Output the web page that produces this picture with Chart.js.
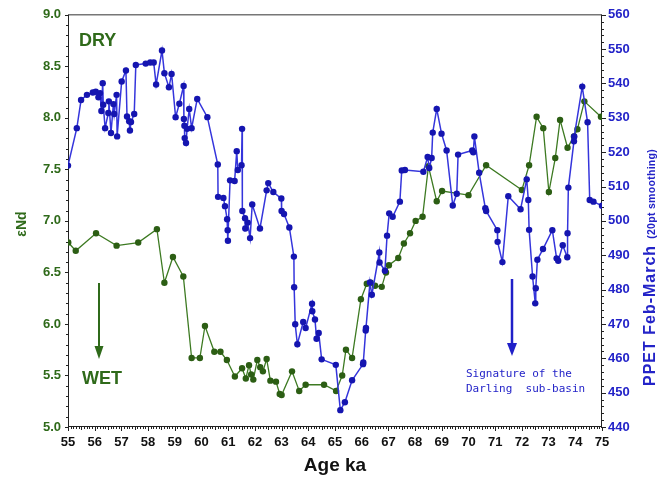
<!DOCTYPE html>
<html>
<head>
<meta charset="utf-8">
<script src="https://cdn.jsdelivr.net/npm/chart.js@4/dist/chart.umd.min.js"></script>
<style>
  html, body { margin: 0; padding: 0; background: #fff; }
  #wrap { width: 666px; height: 479px; }
</style>
</head>
<body>
<div id="wrap"><canvas id="chart" width="666" height="479"></canvas></div>
<script>
"use strict";
// Axes
const X_MIN = 55, X_MAX = 75;
const ND_MIN = 5.0, ND_MAX = 9.0;
const PPET_MIN = 440, PPET_MAX = 560;

// PPET Feb-March (20pt smoothing), blue
const agePpet = [55.00, 55.33, 55.49, 55.71, 55.93, 56.04, 56.14, 56.20, 56.25, 56.30, 56.32, 56.39, 56.51, 56.53,
  56.61, 56.70, 56.73, 56.82, 56.84, 57.01, 57.17, 57.21, 57.29, 57.32, 57.36, 57.48, 57.54, 57.91, 58.08, 58.21,
  58.30, 58.52, 58.61, 58.78, 58.88, 59.03, 59.17, 59.33, 59.34, 59.36, 59.37, 59.42, 59.46, 59.54, 59.63, 59.84,
  60.22, 60.61, 60.62, 60.82, 60.88, 60.96, 60.98, 60.99, 61.07, 61.24, 61.32, 61.36, 61.50, 61.52, 61.53, 61.63,
  61.64, 61.73, 61.82, 61.90, 62.19, 62.44, 62.50, 62.69, 62.99, 63.00, 63.09, 63.29, 63.46, 63.47, 63.51, 63.59,
  63.81, 63.90, 64.14, 64.15, 64.25, 64.31, 64.39, 64.50, 65.03, 65.20, 65.37, 65.64, 66.05, 66.06, 66.15, 66.16,
  66.31, 66.38, 66.66, 66.67, 66.87, 66.95, 67.03, 67.16, 67.43, 67.50, 67.62, 68.31, 68.47, 68.53, 68.62, 68.66,
  68.81, 68.99, 69.18, 69.41, 69.56, 69.61, 70.14, 70.18, 70.22, 70.40, 70.63, 70.66, 71.08, 71.09, 71.27, 71.49,
  71.95, 72.18, 72.24, 72.27, 72.40, 72.50, 72.52, 72.58, 72.79, 73.14, 73.30, 73.36, 73.53, 73.70, 73.71, 73.74,
  73.95, 73.96, 74.26, 74.46, 74.54, 74.68, 75.00];
const ppet = [516.1, 527.0, 535.2, 536.7, 537.4, 537.6, 536.0, 537.2, 532.0, 540.1, 533.8, 527.0, 531.4, 534.8,
  525.6, 534.0, 531.1, 536.7, 524.6, 540.6, 543.8, 530.4, 529.0, 526.3, 528.8, 531.1, 545.4, 545.8, 546.1, 546.1,
  539.7, 549.6, 543.0, 538.9, 542.8, 530.2, 534.1, 539.3, 529.7, 527.7, 524.1, 522.7, 526.8, 532.6, 527.0, 535.5,
  530.2, 516.4, 507.0, 506.7, 504.3, 500.5, 497.3, 494.2, 511.8, 511.6, 520.3, 514.8, 516.2, 526.8, 502.9, 500.8,
  497.8, 499.5, 495.0, 504.8, 497.8, 508.9, 511.0, 508.4, 506.5, 502.9, 502.0, 498.1, 489.6, 480.7, 469.9, 464.1,
  470.6, 468.8, 475.9, 473.7, 471.3, 465.7, 467.4, 459.7, 458.1, 444.9, 447.2, 453.6, 458.3, 458.8, 468.1, 468.8,
  482.1, 478.5, 490.8, 487.9, 485.5, 495.7, 502.2, 501.2, 505.6, 514.7, 514.8, 514.3, 518.6, 515.4, 518.3, 525.7,
  532.6, 525.4, 520.5, 504.5, 507.9, 519.3, 520.5, 520.0, 524.6, 514.0, 503.7, 502.9, 497.3, 493.9, 488.0, 507.2,
  503.4, 512.1, 506.1, 497.4, 483.8, 476.0, 480.4, 488.7, 491.8, 497.3, 489.1, 488.4, 492.9, 489.4, 496.4, 509.7,
  523.2, 524.6, 539.1, 528.7, 506.1, 505.6, 504.4];

// εNd, green
const ageNd = [55.01, 55.29, 56.05, 56.82, 57.63, 58.33, 58.61, 58.93, 59.32, 59.63, 59.94, 60.13, 60.48, 60.71,
  60.95, 61.25, 61.52, 61.66, 61.78, 61.86, 61.94, 62.09, 62.20, 62.30, 62.44, 62.58, 62.79, 62.93, 63.00, 63.39,
  63.66, 63.90, 64.59, 65.04, 65.27, 65.41, 65.64, 65.97, 66.19, 66.34, 66.50, 66.75, 66.91, 67.02, 67.37, 67.58,
  67.81, 68.02, 68.28, 68.50, 68.81, 69.01, 70.00, 70.66, 72.00, 72.27, 72.55, 72.80, 73.01, 73.25, 73.43, 73.71,
  73.95, 74.08, 74.34, 74.96];
const eNd = [6.79, 6.71, 6.88, 6.76, 6.79, 6.92, 6.40, 6.65, 6.46, 5.67, 5.67, 5.98, 5.73, 5.73,
  5.65, 5.49, 5.57, 5.47, 5.60, 5.51, 5.46, 5.65, 5.58, 5.54, 5.66, 5.45, 5.44, 5.32, 5.31, 5.54,
  5.35, 5.41, 5.41, 5.35, 5.50, 5.75, 5.67, 6.24, 6.39, 6.40, 6.37, 6.36, 6.50, 6.57, 6.64, 6.78,
  6.88, 7.00, 7.04, 7.53, 7.19, 7.29, 7.25, 7.54, 7.30, 7.54, 8.01, 7.90, 7.28, 7.61, 7.98, 7.71,
  7.82, 7.89, 8.16, 8.01];

const GREEN_TEXT = '#2f6a1a';
const GREEN_LINE = '#3d7a22';
const GREEN_POINT = '#2c5e14';
const BLUE_TEXT = '#2323c8';
const BLUE_LINE = '#3535dc';
const BLUE_POINT = '#1515b0';
const FONT = "'Liberation Sans', Arial, Helvetica, sans-serif";

// traits d'axes, petites graduations (vers l'extérieur), textes
const decorations = {
    id: 'decorations',
    beforeDatasetsDraw(chart) {
        const { ctx, chartArea: a, scales } = chart;
        const x = scales.x, y = scales.y, y2 = scales.y2;
        const line = (x1, y1, x2, y2_) => { ctx.beginPath(); ctx.moveTo(x1, y1); ctx.lineTo(x2, y2_); ctx.stroke(); };
        ctx.save();
        // cadre haut gris
        ctx.strokeStyle = '#777';
        ctx.lineWidth = 1.5;
        line(a.left, a.top, a.right, a.top);
        ctx.strokeStyle = '#222';
        ctx.lineWidth = 1;
        line(a.left + 0.5, a.top, a.left + 0.5, a.bottom);
        line(a.right - 0.5, a.top, a.right - 0.5, a.bottom);
        line(a.left, a.bottom - 0.5, a.right, a.bottom - 0.5);
        // graduations X
        for (let i = 0; i <= (X_MAX - X_MIN) * 10; i++) {
            const px = Math.round(x.getPixelForValue(X_MIN + i / 10)) + 0.5;
            const len = i % 10 === 0 ? 4 : (i % 5 === 0 ? 3 : 2);
            line(px, a.bottom, px, a.bottom + len);
        }
        // graduations εNd
        for (let i = 0; i <= (ND_MAX - ND_MIN) * 10; i++) {
            const py = Math.round(y.getPixelForValue(ND_MIN + i / 10)) + 0.5;
            const len = i % 5 === 0 ? 4 : 3;
            line(a.left + 1, py, a.left + 1 - len, py);
        }
        // graduations PPET
        for (let v = PPET_MIN; v <= PPET_MAX; v += 2) {
            const py = Math.round(y2.getPixelForValue(v)) + 0.5;
            const len = (v - PPET_MIN) % 10 === 0 ? 5 : 3;
            line(a.right - 1, py, a.right - 1 + len, py);
        }
        ctx.restore();
    },
    afterDraw(chart) {
        const { ctx } = chart;
        ctx.save();
        // DRY / WET
        ctx.fillStyle = GREEN_TEXT;
        ctx.font = `bold 18px ${FONT}`;
        ctx.textBaseline = 'alphabetic';
        ctx.fillText('DRY', 79, 46);
        ctx.fillText('WET', 82, 384);
        // flèche verte
        ctx.strokeStyle = GREEN_TEXT;
        ctx.lineWidth = 2;
        ctx.beginPath(); ctx.moveTo(99, 283); ctx.lineTo(99, 348); ctx.stroke();
        ctx.beginPath(); ctx.moveTo(94.5, 346); ctx.lineTo(103.5, 346); ctx.lineTo(99, 359); ctx.closePath(); ctx.fill();
        // flèche bleue
        ctx.strokeStyle = '#2020c8';
        ctx.fillStyle = '#2020c8';
        ctx.lineWidth = 2.5;
        ctx.beginPath(); ctx.moveTo(512, 279); ctx.lineTo(512, 345); ctx.stroke();
        ctx.beginPath(); ctx.moveTo(507, 343); ctx.lineTo(517, 343); ctx.lineTo(512, 356); ctx.closePath(); ctx.fill();
        // texte bleu
        ctx.fillStyle = BLUE_TEXT;
        ctx.font = "11px 'DejaVu Sans Mono', 'Liberation Mono', monospace";
        ctx.textBaseline = 'middle';
        ctx.fillText('Signature of the', 466, 374);
        ctx.fillText('Darling  sub-basin', 466, 389);
        // titres
        ctx.fillStyle = '#111';
        ctx.textAlign = 'center';
        ctx.font = `bold 19px ${FONT}`;
        ctx.fillText('Age ka', 335, 466);
        // εNd
        ctx.save();
        ctx.translate(22, 224);
        ctx.rotate(-Math.PI / 2);
        ctx.fillStyle = GREEN_TEXT;
        ctx.font = `bold 14px ${FONT}`;
        ctx.fillText('εNd', 0, 0);
        ctx.restore();
        // PPET
        ctx.save();
        ctx.translate(651, 386);
        ctx.rotate(-Math.PI / 2);
        ctx.fillStyle = BLUE_TEXT;
        ctx.textAlign = 'left';
        ctx.letterSpacing = '1px';
        ctx.font = `bold 16px ${FONT}`;
        const t1 = 'PPET Feb-March';
        ctx.fillText(t1, 0, 0);
        const w1 = ctx.measureText(t1).width;
        ctx.letterSpacing = '0.3px';
        ctx.font = `bold 10.5px ${FONT}`;
        ctx.fillText('(20pt smoothing)', w1 + 6, 1);
        ctx.restore();
        ctx.restore();
    }
};

const ctx = document.getElementById('chart');
new Chart(ctx, {
    type: 'scatter',
    data: {
        datasets: [{
                label: 'PPET',
                data: agePpet.map((a, i) => ({ x: a, y: ppet[i] })),
                yAxisID: 'y2',
                showLine: true,
                borderColor: BLUE_LINE,
                backgroundColor: BLUE_POINT,
                borderWidth: 1.5,
                pointRadius: 3.2,
                pointBorderWidth: 0,
                tension: 0
            }, {
                label: 'εNd',
                data: ageNd.map((a, i) => ({ x: a, y: eNd[i] })),
                yAxisID: 'y',
                showLine: true,
                borderColor: GREEN_LINE,
                backgroundColor: GREEN_POINT,
                borderWidth: 1.3,
                pointRadius: 3.2,
                pointBorderWidth: 0,
                tension: 0
            }]
    },
    options: {
        responsive: false,
        animation: false,
        layout: { padding: { top: 13 } },
        plugins: { legend: { display: false }, tooltip: { enabled: false } },
        scales: {
            x: {
                type: 'linear', position: 'bottom', min: X_MIN, max: X_MAX,
                grid: { display: false, drawTicks: false },
                border: { display: false },
                ticks: { stepSize: 1, padding: 8, color: '#111', font: { family: FONT, size: 13, weight: 'bold' } },
                afterFit: s => { s.height = 52; }
            },
            y: {
                position: 'left', min: ND_MIN, max: ND_MAX,
                grid: { display: false, drawTicks: false },
                border: { display: false },
                ticks: { stepSize: 0.5, padding: 7, color: GREEN_TEXT, font: { family: FONT, size: 13, weight: 'bold' },
                    callback: v => v.toFixed(1) },
                afterFit: s => { s.width = 68; }
            },
            y2: {
                position: 'right', min: PPET_MIN, max: PPET_MAX,
                grid: { display: false, drawTicks: false },
                border: { display: false },
                ticks: { stepSize: 10, padding: 6, color: BLUE_TEXT, font: { family: FONT, size: 13, weight: 'bold' } },
                afterFit: s => { s.width = 64; }
            }
        }
    },
    plugins: [decorations]
});
</script>
</body>
</html>
